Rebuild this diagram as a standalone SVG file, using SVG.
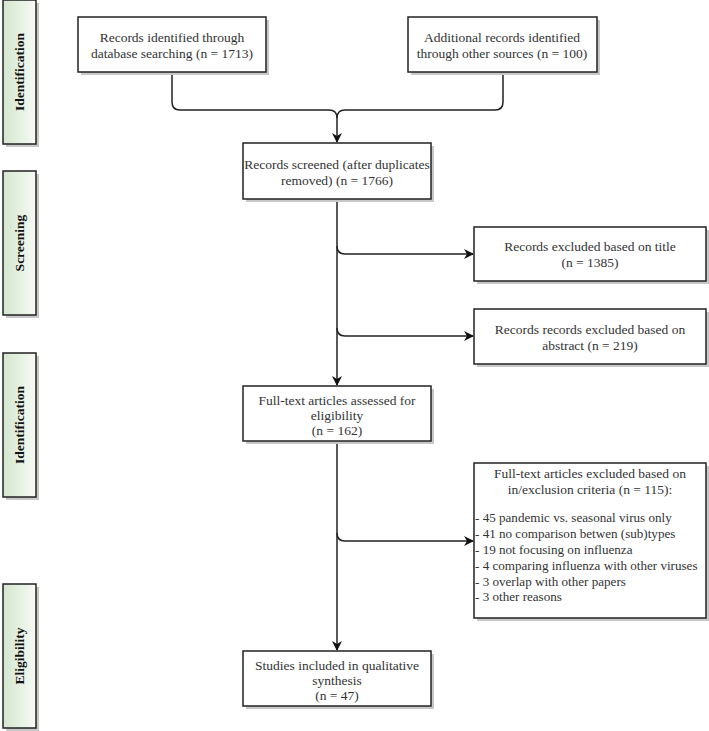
<svg xmlns="http://www.w3.org/2000/svg" width="709" height="731" viewBox="0 0 709 731">
<defs>
<linearGradient id="g" x1="0" y1="0" x2="1" y2="0">
<stop offset="0" stop-color="#d3e6cf"/>
<stop offset="1" stop-color="#f7fbf5"/>
</linearGradient>
<marker id="arr" markerWidth="10" markerHeight="10" refX="9" refY="5" orient="auto" markerUnits="userSpaceOnUse">
<path d="M0,0 L10,5 L0,10 L3,5 Z" fill="#111"/>
</marker>
</defs>
<style>
.box{fill:#fff;stroke:#222;stroke-width:1.5}
.sh{fill:#c8c8c8}
.bar{fill:url(#g);stroke:#222;stroke-width:1.5}
.t{font-family:"Liberation Serif",serif;font-size:13.5px;fill:#333;text-anchor:middle}
.tl{font-family:"Liberation Serif",serif;font-size:13.1px;fill:#333}
.lab{font-family:"Liberation Serif",serif;font-size:13.5px;font-weight:bold;fill:#111;text-anchor:middle}
.c{fill:none;stroke:#222;stroke-width:1.5}
</style>
<rect width="709" height="731" fill="#fff"/>

<g id="bar1"><rect class="sh" x="6" y="3" width="33" height="144"/><rect class="bar" x="3" y="0" width="33" height="144"/><text class="lab" transform="translate(24,72) rotate(-90)">Identification</text></g>
<g id="bar2"><rect class="sh" x="6" y="174" width="33" height="144"/><rect class="bar" x="3" y="171" width="33" height="144"/><text class="lab" transform="translate(24,243) rotate(-90)">Screening</text></g>
<g id="bar3"><rect class="sh" x="6" y="356" width="33" height="144"/><rect class="bar" x="3" y="353" width="33" height="144"/><text class="lab" transform="translate(24,425) rotate(-90)">Identification</text></g>
<g id="bar4"><rect class="sh" x="6" y="587" width="33" height="144"/><rect class="bar" x="3" y="584" width="33" height="144"/><text class="lab" transform="translate(24,656) rotate(-90)">Eligibility</text></g>

<g id="connectors">
<path class="c" d="M172,72 V102 Q172,110 180,110 H329 Q337,110 337,118 V142" marker-end="url(#arr)"/>
<path class="c" d="M503,72 V102 Q503,110 495,110 H345 Q337,110 337,118"/>
<path class="c" d="M337,199 V385" marker-end="url(#arr)"/>
<path class="c" d="M337,246 Q337,254 345,254 H473" marker-end="url(#arr)"/>
<path class="c" d="M337,328 Q337,336 345,336 H473" marker-end="url(#arr)"/>
<path class="c" d="M337,441 V650" marker-end="url(#arr)"/>
<path class="c" d="M337,533 Q337,541 345,541 H473" marker-end="url(#arr)"/>
</g>

<g id="n1"><rect class="sh" x="81" y="20" width="188" height="55"/><rect class="box" x="78" y="17" width="188" height="55"/>
<text class="t" x="172" y="42">Records identified through</text><text class="t" x="172" y="58">database searching (n = 1713)</text></g>
<g id="n2"><rect class="sh" x="411" y="20" width="189" height="55"/><rect class="box" x="408" y="17" width="189" height="55"/>
<text class="t" x="502" y="42">Additional records identified</text><text class="t" x="502" y="58">through other sources (n = 100)</text></g>
<g id="n3"><rect class="sh" x="246" y="146" width="188" height="56"/><rect class="box" x="243" y="143" width="188" height="56"/>
<text class="t" x="337" y="169">Records screened (after duplicates</text><text class="t" x="337" y="185">removed) (n = 1766)</text></g>
<g id="n4"><rect class="sh" x="477" y="230" width="232" height="54"/><rect class="box" x="474" y="227" width="232" height="54"/>
<text class="t" x="590" y="251">Records excluded based on title</text><text class="t" x="590" y="267">(n = 1385)</text></g>
<g id="n5"><rect class="sh" x="477" y="312" width="232" height="55"/><rect class="box" x="474" y="309" width="232" height="55"/>
<text class="t" x="590" y="334">Records records excluded based on</text><text class="t" x="590" y="350">abstract (n = 219)</text></g>
<g id="n6"><rect class="sh" x="246" y="389" width="188" height="55"/><rect class="box" x="243" y="386" width="188" height="55"/>
<text class="t" x="337" y="405">Full-text articles assessed for</text><text class="t" x="337" y="420">eligibility</text><text class="t" x="337" y="435">(n = 162)</text></g>
<g id="n7"><rect class="sh" x="477" y="466" width="232" height="155"/><rect class="box" x="474" y="463" width="232" height="155"/>
<text class="t" x="590" y="478">Full-text articles excluded based on</text><text class="t" x="590" y="494">in/exclusion criteria (n = 115):</text>
<text class="tl" x="475" y="522">- 45 pandemic vs. seasonal virus only</text>
<text class="tl" x="475" y="538">- 41 no comparison betwen (sub)types</text>
<text class="tl" x="475" y="554">- 19 not focusing on influenza</text>
<text class="tl" x="475" y="570">- 4 comparing influenza with other viruses</text>
<text class="tl" x="475" y="586">- 3 overlap with other papers</text>
<text class="tl" x="475" y="601">- 3 other reasons</text></g>
<g id="n8"><rect class="sh" x="246" y="654" width="188" height="55"/><rect class="box" x="243" y="651" width="188" height="55"/>
<text class="t" x="337" y="670">Studies included in qualitative</text><text class="t" x="337" y="685">synthesis</text><text class="t" x="337" y="700">(n = 47)</text></g>
</svg>
